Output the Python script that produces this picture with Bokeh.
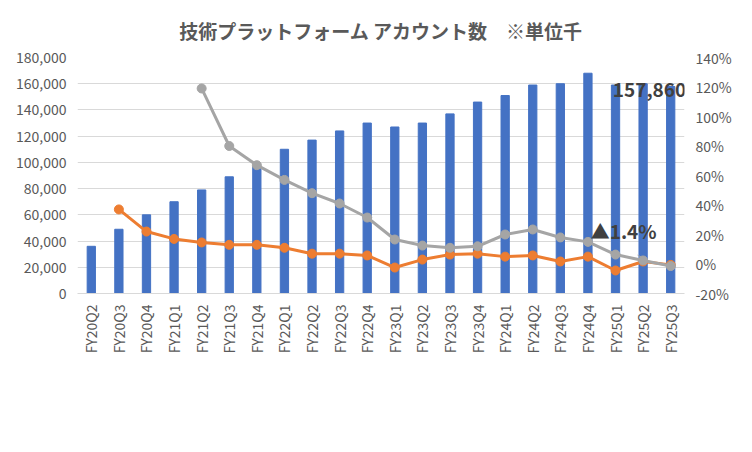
from bokeh.plotting import figure
from bokeh.models import Range1d, LinearAxis, NumeralTickFormatter, Legend, LegendItem, Label, FixedTicker, CustomJSTickFormatter
from bokeh.embed import file_html
from bokeh.resources import INLINE
import numpy as np

cats = ["FY20Q2","FY20Q3","FY20Q4","FY21Q1","FY21Q2","FY21Q3","FY21Q4","FY22Q1","FY22Q2","FY22Q3","FY22Q4",
        "FY23Q1","FY23Q2","FY23Q3","FY23Q4","FY24Q1","FY24Q2","FY24Q3","FY24Q4","FY25Q1","FY25Q2","FY25Q3"]
accounts = [36000,49000,60000,70000,79000,89000,97000,110000,117000,124000,130000,
            127000,130000,137000,146000,151000,159000,160000,168000,159000,160000,157860]
qoq = [None,37,22,17,14.6,13,13,11,7,7,5.8,-2.4,3,6.4,7,5,5.8,1.7,5,-4.4,1.7,-0.6]
yoy = [None,None,None,None,119,80,67,57,48,41,31.5,16.6,12.5,11,12,20,23.4,18,15,6.4,2.4,-1.4]

FONT = "Noto Sans CJK JP"
p = figure(x_range=cats, y_range=Range1d(0,180000), frame_width=607, frame_height=236,
           output_backend="svg", toolbar_location=None,
           min_border_left=77, min_border_right=52, min_border_top=20, min_border_bottom=10,
           outline_line_color=None, border_fill_color="white")
p.extra_y_ranges = {"pct": Range1d(-20,140)}
p.title.text = "技術プラットフォーム アカウント数　※単位千"
p.title.align = "center"
p.title.text_font = FONT
p.title.text_font_size = "19px"
p.title.text_color = "#595959"
p.title.standoff = 28

bars = p.vbar(x=cats, top=accounts, width=0.3, color="#4472C4")
xs_q = [c for c, v in zip(cats, qoq) if v is not None]
ys_q = [v for v in qoq if v is not None]
lq = p.line(xs_q, ys_q, y_range_name="pct", color="#ED7D31", line_width=3)
cq = p.scatter(xs_q, ys_q, y_range_name="pct", color="#ED7D31", size=9)
xs_y = [c for c, v in zip(cats, yoy) if v is not None]
ys_y = [v for v in yoy if v is not None]
ly = p.line(xs_y, ys_y, y_range_name="pct", color="#A5A5A5", line_width=3)
cy = p.scatter(xs_y, ys_y, y_range_name="pct", color="#A5A5A5", size=9)

p.yaxis.ticker = FixedTicker(ticks=list(range(0,180001,20000)))
p.yaxis.formatter = NumeralTickFormatter(format="0,0")
ax2 = LinearAxis(y_range_name="pct", ticker=FixedTicker(ticks=list(range(-20,141,20))))
ax2.formatter = CustomJSTickFormatter(code="return tick + '%'")
p.add_layout(ax2, "right")
for ax in [p.yaxis[0], ax2]:
    ax.axis_line_color = None
    ax.major_tick_line_color = None
    ax.minor_tick_line_color = None
for ax in p.axis:
    ax.major_label_text_font = FONT
    ax.major_label_text_font_size = "14px"
    ax.major_label_text_color = "#595959"
p.xaxis.major_label_orientation = np.pi/2
p.xaxis.axis_line_color = "#D9D9D9"
p.xaxis.major_tick_line_color = None
p.xgrid.grid_line_color = None
p.ygrid.grid_line_color = "#D9D9D9"

p.add_layout(Label(x=19.4, y=150000, text="157,860", text_font=FONT, text_font_style="bold",
                   text_font_size="19px", text_color="#404040"))
p.add_layout(Label(x=18.6, y=19, y_range_name="pct", text="▲1.4%", text_font=FONT, text_font_style="bold",
                   text_font_size="19px", text_color="#404040", y_offset=-8))
p.segment(x0=[20.3], y0=[6], x1=[20.8], y1=[1], y_range_name="pct", color="#A5A5A5", line_width=1)

leg = Legend(items=[LegendItem(label="アカウント数", renderers=[bars]),
                    LegendItem(label="前四半期比", renderers=[lq, cq]),
                    LegendItem(label="前年同期比", renderers=[ly, cy])],
             orientation="horizontal", location="center", border_line_color=None,
             label_text_font=FONT, label_text_font_size="14px", label_text_color="#595959",
             spacing=30, glyph_width=40, margin=8, padding=4)
p.add_layout(leg, "below")

open("out.html", "w").write(file_html(p, INLINE))
